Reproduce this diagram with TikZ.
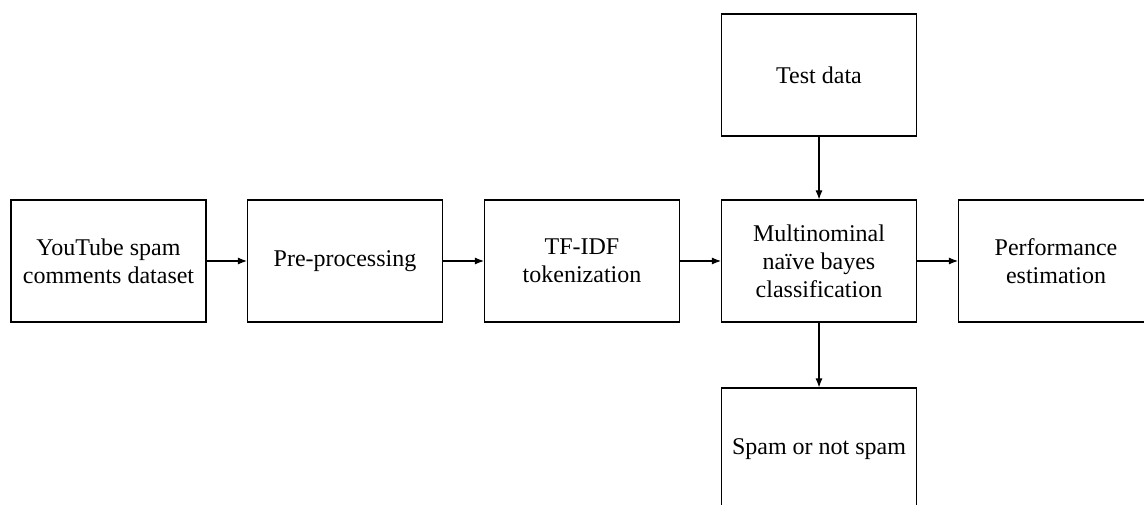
\documentclass[tikz,border=0pt]{standalone}
\usepackage{fontspec}
\setmainfont{Liberation Serif}
\usepackage{tikz}
\usetikzlibrary{arrows.meta, positioning}

\begin{document}
\begin{tikzpicture}[x=1pt, y=-1pt,
        stage/.style={draw, line width=1.1pt, minimum width=195pt, minimum height=122pt, align=center, inner sep=2pt,
                font=\fontsize{24}{28}\selectfont},
        flow/.style={line width=1.1pt, -{Latex[length=9pt, width=7pt]}}]
        \useasboundingbox (0,0) rectangle (1144,505);
        \node[stage] (dataset) at (108.5,261) {YouTube spam\\comments dataset};
        \node[stage] (prep) at (345,261) {Pre-processing};
        \node[stage] (tfidf) at (582,261) {TF-IDF\\tokenization};
        \node[stage] (mnb) at (819,261) {Multinominal\\naïve bayes\\classification};
        \node[stage] (perf) at (1056,261) {Performance\\estimation};
        \node[stage] (test) at (819,75) {Test data};
        \node[stage] (result) at (819,449) {Spam or not spam};
        % connectors
        \draw[flow] (dataset) -- (prep);
        \draw[flow] (prep) -- (tfidf);
        \draw[flow] (tfidf) -- (mnb);
        \draw[flow] (mnb) -- (perf);
        \draw[flow] (test) -- (mnb);
        \draw[flow] (mnb) -- (result);
\end{tikzpicture}
\end{document}
